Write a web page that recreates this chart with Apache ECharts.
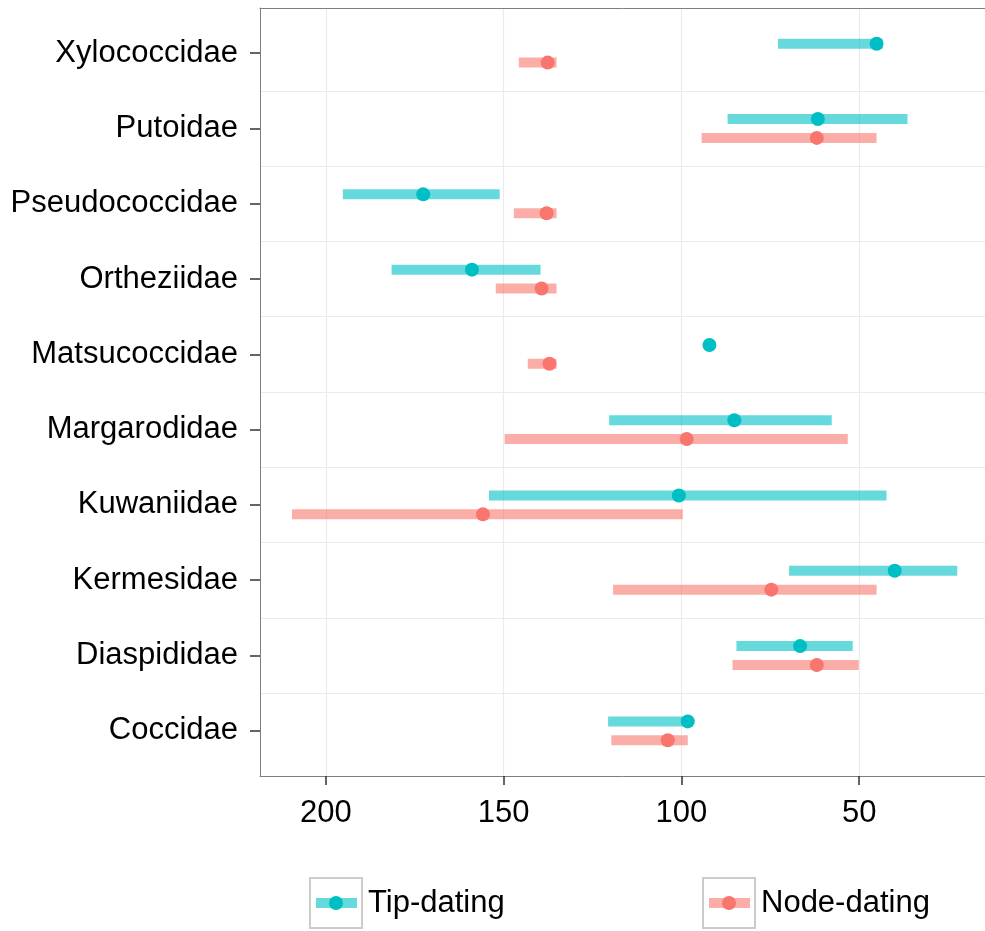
<!DOCTYPE html>
<html>
<head>
<meta charset="utf-8">
<script src="https://cdn.jsdelivr.net/npm/echarts@6/dist/echarts.min.js"></script>
<style>
  html, body { margin: 0; padding: 0; background: #fff; }
  #main { width: 985px; height: 931px; }
</style>
</head>
<body>
<div id="main"></div>
<script>
// families, top to bottom
var categories = ['Xylococcidae', 'Putoidae', 'Pseudococcidae', 'Ortheziidae', 'Matsucoccidae',
                  'Margarodidae', 'Kuwaniidae', 'Kermesidae', 'Diaspididae', 'Coccidae'];
// ages (Ma), older end / younger end / mean
var tipOld   = [72.8, 87.0, 195.2, 181.5, null, 120.3, 154.1, 69.7, 84.5, 120.6];
var tipYoung = [43.4, 36.4, 151.1, 139.6, null, 57.7, 42.3, 22.4, 51.8, 98.2];
var tipMean  = [45.1, 61.6, 172.6, 158.9, 92.1, 85.1, 100.7, 40.0, 66.6, 98.2];
var nodeOld   = [145.7, 94.3, 147.1, 152.2, 143.2, 149.7, 209.5, 119.2, 85.6, 119.7];
var nodeYoung = [135.1, 45.1, 135.1, 135.1, 135.1, 53.2, 99.6, 45.1, 50.1, 98.2];
var nodeMean  = [137.6, 61.9, 137.9, 139.3, 137.1, 98.5, 155.8, 74.7, 61.9, 103.8];
var xTicks = [50, 100, 150, 200];

var TIP = '#00BFC4', NODE = '#F8766D';
var FONT = '"Liberation Sans", Arial, Helvetica, sans-serif';
var BORDER = '#7f7f7f';

function rangeData(oldArr, youngArr, off) {
    var out = [];
    for (var i = 0; i < categories.length; i++) {
        out.push([i + off, oldArr[i], youngArr[i]]);
    }
    return out;
}
function pointData(meanArr, off) {
    var out = [];
    for (var i = 0; i < categories.length; i++) {
        out.push([meanArr[i], i + off]);
    }
    return out;
}
function makeRender(color) {
    return function (params, api) {
        var a = api.value(1), b = api.value(2);
        if (a == null || isNaN(a) || b == null || isNaN(b)) return;
        var p1 = api.coord([a, api.value(0)]);
        var p2 = api.coord([b, api.value(0)]);
        return {
            type: 'rect',
            shape: { x: Math.min(p1[0], p2[0]), y: p1[1] - 5, width: Math.abs(p2[0] - p1[0]), height: 10 },
            style: { fill: color, opacity: 0.6 }
        };
    };
}
function legendIcon(color) {
    var svg = "<svg xmlns='http://www.w3.org/2000/svg' width='54' height='52'>" +
        "<rect x='1' y='1' width='52' height='50' fill='white' stroke='#cccccc' stroke-width='2'/>" +
        "<rect x='7' y='21' width='41' height='10' fill='" + color + "' fill-opacity='0.6'/>" +
        "<circle cx='27' cy='26' r='7' fill='" + color + "'/></svg>";
    return 'image://data:image/svg+xml;charset=utf-8,' + encodeURIComponent(svg);
}

var chart = echarts.init(document.getElementById('main'));
var legendBase = {
    top: 877, padding: 0, itemWidth: 54, itemHeight: 52, orient: 'horizontal',
    textStyle: { fontSize: 31, color: '#000', fontFamily: FONT }
};
var option = {
    animation: false,
    backgroundColor: '#fff',
    grid: { left: 260, right: -4, top: 8, bottom: 155, show: false },
    legend: [
        Object.assign({}, legendBase, { left: 309, data: [{ name: 'Tip-dating', icon: legendIcon(TIP) }] }),
        Object.assign({}, legendBase, { left: 702, data: [{ name: 'Node-dating', icon: legendIcon(NODE) }] })
    ],
    xAxis: [{
        type: 'value', inverse: true, min: 14.6, max: 218.5, position: 'bottom',
        axisLine: { show: true, onZero: false, lineStyle: { color: BORDER, width: 1 } },
        axisTick: { show: true, length: 9, customValues: xTicks, lineStyle: { color: '#333', width: 1.5 } },
        axisLabel: { customValues: xTicks, margin: 22, fontSize: 31, color: '#000', fontFamily: FONT },
        splitLine: { show: true, lineStyle: { color: '#ebebeb', width: 1.2 } }
    }, {
        // top edge of the panel
        type: 'value', inverse: true, min: 14.6, max: 218.5, position: 'top',
        axisLine: { show: true, onZero: false, lineStyle: { color: BORDER, width: 1 } },
        axisTick: { show: false }, axisLabel: { show: false }, splitLine: { show: false }
    }],
    yAxis: [{
        type: 'value', inverse: true, min: -0.6, max: 9.6, position: 'left',
        axisLine: { show: true, onZero: false, lineStyle: { color: BORDER, width: 1 } },
        axisTick: { show: true, length: 10, customValues: [0, 1, 2, 3, 4, 5, 6, 7, 8, 9], lineStyle: { color: '#333', width: 1.5 } },
        axisLabel: {
            customValues: [0, 1, 2, 3, 4, 5, 6, 7, 8, 9], margin: 22, fontSize: 31, color: '#000', fontFamily: FONT,
            formatter: function (v) { return categories[Math.round(v)]; }
        },
        splitLine: { show: false }
    }, {
        // only for the separators between families
        type: 'value', inverse: true, min: -0.6, max: 9.6, position: 'left',
        axisLine: { show: false, onZero: false },
        axisTick: { show: false, customValues: [0.5, 1.5, 2.5, 3.5, 4.5, 5.5, 6.5, 7.5, 8.5] },
        axisLabel: { show: false },
        splitLine: { show: true, lineStyle: { color: '#ebebeb', width: 1.2 } }
    }],
    series: [
        { name: 'Tip-dating', type: 'custom', renderItem: makeRender(TIP), encode: { x: [1, 2], y: 0 },
          data: rangeData(tipOld, tipYoung, -0.125), z: 2 },
        { name: 'Node-dating', type: 'custom', renderItem: makeRender(NODE), encode: { x: [1, 2], y: 0 },
          data: rangeData(nodeOld, nodeYoung, 0.125), z: 2 },
        { name: 'Tip-dating', type: 'scatter', symbolSize: 14, itemStyle: { color: TIP, opacity: 1 },
          data: pointData(tipMean, -0.125), z: 3 },
        { name: 'Node-dating', type: 'scatter', symbolSize: 14, itemStyle: { color: NODE, opacity: 1 },
          data: pointData(nodeMean, 0.125), z: 3 }
    ]
};
chart.setOption(option);
</script>
</body>
</html>
